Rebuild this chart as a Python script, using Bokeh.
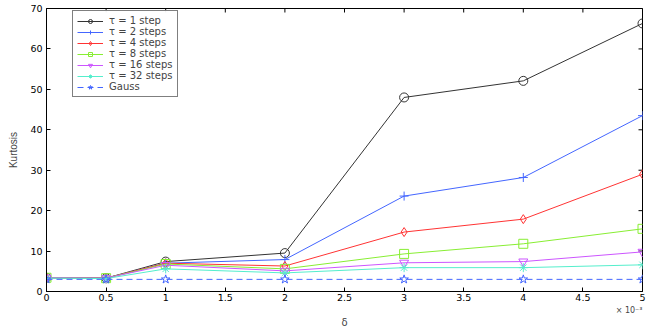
import math
from bokeh.plotting import figure
from bokeh.models import (FixedTicker, CustomJSTickFormatter, Range1d,
                          Legend, LegendItem, Title)
from bokeh.embed import file_html
from bokeh.resources import INLINE

# delta values (x 10^-3)
delta = [0, 0.5, 1, 2, 3, 4, 5]
x_ticks = [0, 0.5, 1, 1.5, 2, 2.5, 3, 3.5, 4, 4.5, 5]
y_ticks = [0, 10, 20, 30, 40, 50, 60, 70]
x_min, x_max = 0, 5
y_min, y_max = 0, 70

tau_1 = [3.4, 3.3, 7.4, 9.5, 48.0, 52.1, 66.3]
tau_2 = [3.4, 3.3, 7.0, 7.9, 23.6, 28.2, 43.5]
tau_4 = [3.4, 3.3, 7.0, 6.3, 14.7, 17.9, 29.0]
tau_8 = [3.4, 3.3, 6.8, 5.6, 9.3, 11.8, 15.5]
tau_16 = [3.4, 3.3, 6.5, 5.1, 7.1, 7.4, 9.8]
tau_32 = [3.3, 3.2, 5.6, 4.6, 5.9, 5.9, 6.6]
gauss = [3, 3, 3, 3, 3, 3, 3]

labels = ["τ = 1 step", "τ = 2 steps", "τ = 4 steps", "τ = 8 steps",
          "τ = 16 steps", "τ = 32 steps", "Gauss"]
series = [tau_1, tau_2, tau_4, tau_8, tau_16, tau_32, gauss]
colors = ["#333333", "#4466ff", "#ff3333", "#88ee33", "#cc55ff", "#55eecc", "#4466ff"]
markers = ["circle", "cross", "diamond", "square", "inverted_triangle", "asterisk", "star"]
dashes = ["solid"] * 6 + ["6 4"]

FONT = "DejaVu Sans"

p = figure(width=654, height=327, output_backend="svg", toolbar_location=None,
           x_range=Range1d(x_min, x_max), y_range=Range1d(y_min, y_max),
           min_border_left=46, min_border_right=12, min_border_top=8,
           min_border_bottom=35)
p.xgrid.visible = False
p.ygrid.visible = False
p.outline_line_color = "black"
p.outline_line_width = 1
p.background_fill_color = "white"

for ax in (p.xaxis[0], p.yaxis[0]):
    ax.major_tick_in = 4
    ax.major_tick_out = 0
    ax.minor_tick_line_color = None
    ax.axis_line_color = "black"
    ax.major_tick_line_color = "black"
    ax.major_label_text_font = FONT
    ax.major_label_text_font_size = "9.5px"
    ax.major_label_text_color = "black"
    ax.major_label_standoff = 2

p.xaxis[0].ticker = FixedTicker(ticks=x_ticks)
p.xaxis[0].formatter = CustomJSTickFormatter(code="return tick.toString();")
p.yaxis[0].ticker = FixedTicker(ticks=y_ticks)
p.yaxis[0].formatter = CustomJSTickFormatter(code="return tick.toString();")
p.yaxis[0].major_label_standoff = 4
p.yaxis[0].axis_label = "Kurtosis"
p.yaxis[0].axis_label_text_font = "Liberation Sans"
p.yaxis[0].axis_label_text_font_style = "normal"
p.yaxis[0].axis_label_text_font_size = "10px"
p.yaxis[0].axis_label_standoff = 8

# inward tick marks on the top and right edges of the box (clipped to the frame)
p.scatter(x_ticks, [y_max] * len(x_ticks), marker="dash", size=8, angle=math.pi / 2,
          line_color="black", line_width=1)
p.scatter([x_max] * len(y_ticks), y_ticks, marker="dash", size=8, angle=0,
          line_color="black", line_width=1)

items = []
for lab, ys, c, m, d in zip(labels, series, colors, markers, dashes):
    lr = p.line(delta, ys, line_color=c, line_width=1, line_dash=d)
    sr = p.scatter(delta, ys, marker=m, size=9, line_color=c, fill_color=None, line_width=1)
    items.append(LegendItem(label=lab, renderers=[lr, sr]))

legend = Legend(items=items, location=(26, 194))
legend.label_text_font = FONT
legend.label_text_font_size = "10px"
legend.label_height = 8
legend.glyph_height = 10
legend.glyph_width = 26
legend.spacing = 0
legend.padding = 4
legend.margin = 0
legend.label_standoff = 6
legend.border_line_color = "black"
legend.border_line_width = 1
legend.background_fill_color = "white"
p.add_layout(legend, "center")

# x-axis scale note and axis name, stacked below the tick labels
p.add_layout(Title(text="× 10⁻³", align="right", text_font=FONT, text_font_size="8px",
                   text_font_style="normal", standoff=0, offset=0), "below")
p.add_layout(Title(text="δ", align="center", text_font=FONT, text_font_size="10px",
                   text_font_style="normal", standoff=0, offset=0), "below")

open("out.html", "w").write(file_html(p, INLINE))
